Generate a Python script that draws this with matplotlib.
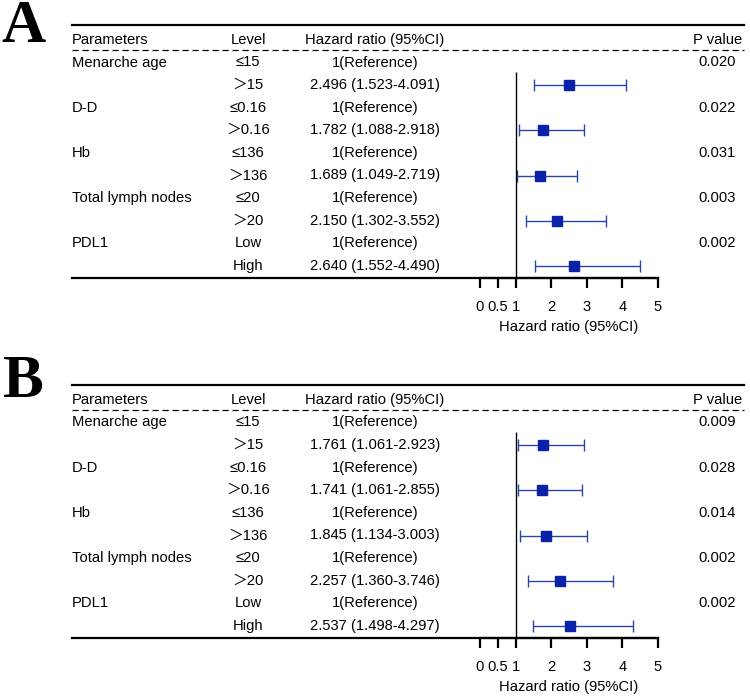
import matplotlib
matplotlib.use("Agg")
import matplotlib.pyplot as plt

# ---------------- data ----------------
params = ["Menarche age", "D-D", "Hb", "Total lymph nodes", "PDL1"]
levels_ref = ["≤15", "≤0.16", "≤136", "≤20", "Low"]
levels_cmp = ["＞15", "＞0.16", "＞136", "＞20", "High"]

A_hr = [2.496, 1.782, 1.689, 2.150, 2.640]
A_lo = [1.523, 1.088, 1.049, 1.302, 1.552]
A_hi = [4.091, 2.918, 2.719, 3.552, 4.490]
A_p = ["0.020", "0.022", "0.031", "0.003", "0.002"]

B_hr = [1.761, 1.741, 1.845, 2.257, 2.537]
B_lo = [1.061, 1.061, 1.134, 1.360, 1.498]
B_hi = [2.923, 2.855, 3.003, 3.746, 4.297]
B_p = ["0.009", "0.028", "0.014", "0.002", "0.002"]

xticks = [0, 0.5, 1, 2, 3, 4, 5]
xtick_labels = ["0", "0.5", "1", "2", "3", "4", "5"]
headers = ["Parameters", "Level", "Hazard ratio (95%CI)", "P value"]
xlabel = "Hazard ratio (95%CI)"

# ---------------- layout ----------------
W, H = 750, 699
fig = plt.figure(figsize=(W / 100, H / 100), dpi=100)
fig.patch.set_facecolor("white")

SANS = ["Liberation Sans", "Noto Sans CJK SC", "DejaVu Sans"]
FS = 10.6
MARK_C = "#0a22a8"
LINE_C = "#2a45a8"

TAB_L, TAB_R = 72, 744
FOR_L, FOR_R = 480, 658
TOP_Y, BOT_Y = 25, 278
ROW0 = 62.5
ROWH = 22.6
y_top = (TOP_Y - ROW0) / ROWH
y_bot = (BOT_Y - ROW0) / ROWH


def fx(px):
    return (px - TAB_L) / (TAB_R - TAB_L)


def panel(offset, letter, letter_y, hr, lo, hi, pvals):
    bottom = 1 - (BOT_Y + offset) / H
    height = (BOT_Y - TOP_Y) / H
    tab = fig.add_axes([TAB_L / W, bottom, (TAB_R - TAB_L) / W, height])
    tab.set_xlim(0, 1)
    tab.set_ylim(y_bot, y_top)
    tab.axis("off")

    fax = fig.add_axes([FOR_L / W, bottom, (FOR_R - FOR_L) / W, height])
    fax.set_xlim(0, 5)
    fax.set_ylim(y_bot, y_top)
    fax.patch.set_alpha(0)
    for s in ["top", "left", "right"]:
        fax.spines[s].set_visible(False)
    fax.spines["bottom"].set_linewidth(1.6)
    fax.set_yticks([])
    fax.set_xticks(xticks)
    fax.set_xticklabels(xtick_labels, fontfamily=SANS, fontsize=FS)
    fax.tick_params(axis="x", direction="out", length=7, width=1.6, pad=9)
    fax.set_xlabel(xlabel, fontfamily=SANS, fontsize=FS, labelpad=4)

    # table lines
    tab.plot([0, 1], [y_top, y_top], color="black", lw=1.6, clip_on=False)
    tab.plot([0, 1], [-0.55, -0.55], color="black", lw=0.9, ls=(0, (5, 3)), clip_on=False)
    tab.plot([0, fx(FOR_R)], [y_bot, y_bot], color="black", lw=1.6, clip_on=False)

    # headers
    hx = [(fx(TAB_L), "left"), (fx(248), "center"), (fx(375), "center"), (fx(718), "center")]
    for (x, ha), t in zip(hx, headers):
        tab.text(x, -1, t, ha=ha, va="center", fontfamily=SANS, fontsize=FS)

    # rows
    for i in range(len(params)):
        r_ref = 2 * i
        r_cmp = 2 * i + 1
        tab.text(0, r_ref, params[i], ha="left", va="center", fontfamily=SANS, fontsize=FS)
        tab.text(fx(248), r_ref, levels_ref[i], ha="center", va="center", fontfamily=SANS, fontsize=FS)
        tab.text(fx(248), r_cmp, levels_cmp[i], ha="center", va="center", fontfamily=SANS, fontsize=FS)
        tab.text(fx(375), r_ref, "1(Reference)", ha="center", va="center", fontfamily=SANS, fontsize=FS)
        tab.text(fx(375), r_cmp, f"{hr[i]:.3f} ({lo[i]:.3f}-{hi[i]:.3f})",
                 ha="center", va="center", fontfamily=SANS, fontsize=FS)
        tab.text(fx(717), r_ref, pvals[i], ha="center", va="center", fontfamily=SANS, fontsize=FS)

        fax.errorbar([hr[i]], [r_cmp],
                     xerr=[[hr[i] - lo[i]], [hi[i] - hr[i]]],
                     fmt="s", color=MARK_C, ecolor=LINE_C, elinewidth=1.0,
                     capsize=4, capthick=1.0, markersize=7.5, clip_on=False)

    fax.vlines(1, 0.42, y_bot, color="black", lw=1.0)

    fig.text(23 / W, 1 - letter_y / H, letter, ha="center", va="center",
             fontfamily=["Liberation Serif", "DejaVu Serif"], fontsize=44,
             fontweight="bold")


panel(0, "A", 27, A_hr, A_lo, A_hi, A_p)
panel(360, "B", 382, B_hr, B_lo, B_hi, B_p)

fig.savefig("out.png", dpi=100, facecolor="white")
